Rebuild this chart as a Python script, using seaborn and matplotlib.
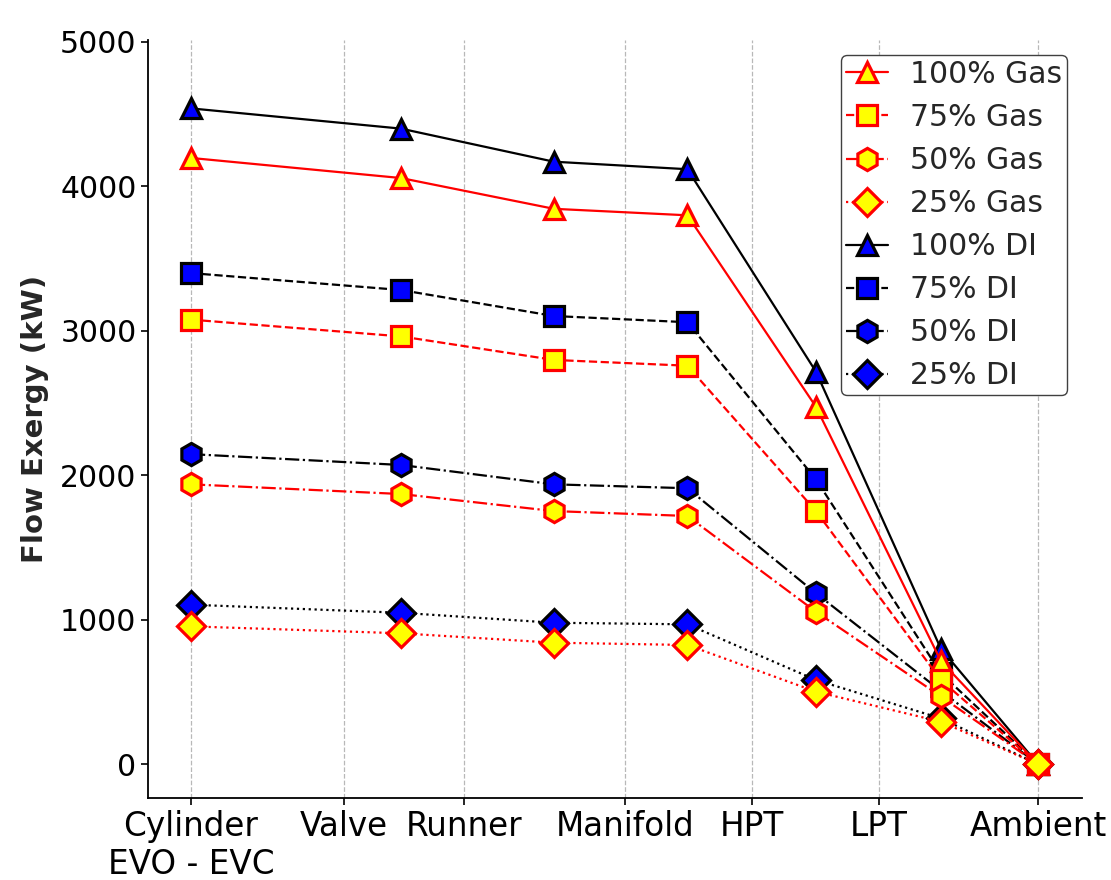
import matplotlib
matplotlib.use("Agg")
import matplotlib.pyplot as plt
import seaborn as sns

# 测点位置 (x 轴刻度) 与数据点位置
station_labels = ["Cylinder\nEVO - EVC", "Valve", "Runner", "Manifold", "HPT", "LPT", "Ambient"]
station_x = [0.0, 1.086, 1.936, 3.074, 3.975, 4.874, 6.0]
point_x = [0.0, 1.487, 2.570, 3.516, 4.426, 5.311, 6.0]

# Flow exergy (kW)
gas_100 = [4197, 4058, 3845, 3800, 2475, 715, 0]
gas_75 = [3078, 2962, 2799, 2759, 1753, 583, 0]
gas_50 = [1938, 1871, 1753, 1719, 1056, 470, 0]
gas_25 = [955, 907, 842, 826, 503, 295, 0]
di_100 = [4540, 4400, 4171, 4119, 2718, 800, 0]
di_75 = [3400, 3283, 3103, 3060, 1973, 630, 0]
di_50 = [2147, 2072, 1938, 1911, 1184, 508, 0]
di_25 = [1105, 1049, 980, 969, 584, 318, 0]

loads = ["100%", "75%", "50%", "25%"]
markers = ["^", "s", "h", "D"]
styles = ["-", "--", "-.", ":"]
msizes = [15, 14.5, 16, 14.5]

sns.set_style("ticks")
plt.rcParams['font.family'] = ['DejaVu Sans']

fig = plt.figure(figsize=(11.11, 8.8), dpi=100)
ax = fig.add_axes([0.1335, 0.0935, 0.8401, 0.8605])

handles = {}
# DI 先画, Gas 后画 (Gas 标记在上层)
for fuel, series, lc, fc in [("DI", [di_100, di_75, di_50, di_25], "black", "blue"),
                             ("Gas", [gas_100, gas_75, gas_50, gas_25], "red", "yellow")]:
    for load, vals, m, ls, ms in zip(loads, series, markers, styles, msizes):
        sns.lineplot(x=point_x, y=vals, ax=ax, color=lc, linestyle=ls, linewidth=1.6,
                     marker=m, markersize=ms, markerfacecolor=fc, markeredgecolor=lc,
                     markeredgewidth=2.3, sort=False)
        handles[f"{load} {fuel}"] = ax.lines[-1]

order = [f"{l} Gas" for l in loads] + [f"{l} DI" for l in loads]
ax.legend([handles[k] for k in order], order, loc="upper right", fontsize=21.5,
          handlelength=1.4, handletextpad=0.75, labelspacing=0.47, borderpad=0.15,
          borderaxespad=0.5, frameon=True, edgecolor="0.25", framealpha=1)

ax.set_xticks(station_x)
ax.set_xticklabels(station_labels, fontsize=23.5)
ax.set_yticks([0, 1000, 2000, 3000, 4000, 5000])
ax.tick_params(axis="y", labelsize=21.5, length=5, width=1.2, colors="black")
ax.tick_params(axis="x", length=5, width=1.2, colors="black")
ax.set_xlim(-0.302, 6.308)
ax.set_ylim(-231, 5010)
ax.set_ylabel("Flow Exergy (kW)", fontsize=21, fontweight="bold", labelpad=8)
ax.grid(axis="x", linestyle="--", color="0.72", linewidth=0.9)
ax.grid(axis="y", visible=False)
sns.despine(ax=ax)
for s in ["left", "bottom"]:
    ax.spines[s].set_color("black")
    ax.spines[s].set_linewidth(1.3)

fig.savefig("out.png", dpi=100)
